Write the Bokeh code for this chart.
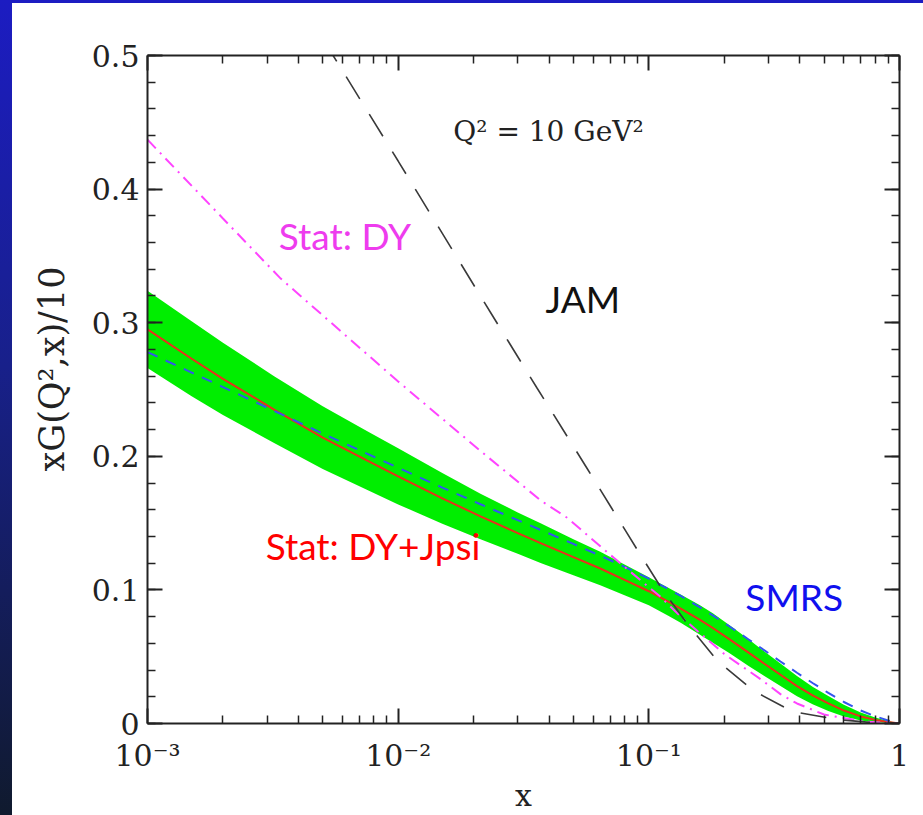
from bokeh.plotting import figure
from bokeh.layouts import row, column
from bokeh.models import (Range1d, LogAxis, LinearAxis, FixedTicker, SingleIntervalTicker,
                          CustomJSTickFormatter, Label, Title, GlobalInlineStyleSheet, Spacer)
from bokeh.embed import file_html
from bokeh.resources import INLINE

# ---------------- data ----------------
x_grid = [0.001, 0.0015, 0.002, 0.0032, 0.005, 0.0075, 0.01, 0.015, 0.0213, 0.03, 0.037,
          0.05, 0.064, 0.08, 0.1, 0.12, 0.134, 0.16, 0.18, 0.21, 0.25, 0.29, 0.335, 0.39,
          0.45, 0.52, 0.6, 0.7, 0.8, 0.9, 1.0]

stat_dy_jpsi = [0.295, 0.273, 0.258, 0.235, 0.214, 0.197, 0.185, 0.1685, 0.155, 0.1425, 0.135,
                0.1245, 0.116, 0.1075, 0.099, 0.091, 0.086, 0.0775, 0.0715, 0.063, 0.053, 0.0445,
                0.0365, 0.028, 0.021, 0.015, 0.0097, 0.0053, 0.0027, 0.0012, 0.0]
band_upper = [0.324, 0.301, 0.285, 0.260, 0.2375, 0.219, 0.206, 0.1875, 0.172, 0.158, 0.1498,
              0.138, 0.1285, 0.119, 0.1095, 0.1015, 0.0965, 0.0885, 0.0825, 0.0735, 0.063, 0.0537,
              0.045, 0.0356, 0.0276, 0.0206, 0.0141, 0.0083, 0.0044, 0.0019, 0.0]
band_lower = [0.266, 0.245, 0.231, 0.210, 0.1905, 0.175, 0.164, 0.1495, 0.138, 0.127, 0.1202,
              0.111, 0.1035, 0.096, 0.0885, 0.0805, 0.0755, 0.0665, 0.0605, 0.0525, 0.043, 0.0353,
              0.028, 0.0204, 0.0144, 0.0094, 0.0053, 0.0023, 0.001, 0.0005, 0.0]
smrs = [0.278, 0.2627, 0.2518, 0.234, 0.2171, 0.202, 0.1914, 0.1766, 0.1641, 0.1522, 0.1449,
        0.1344, 0.1256, 0.1173, 0.1084, 0.1005, 0.0955, 0.0869, 0.0809, 0.0726, 0.0629, 0.0546,
        0.0464, 0.038, 0.0303, 0.0229, 0.0161, 0.0097, 0.0054, 0.0023, 0.0]

x_dy = [0.001, 0.002, 0.0034, 0.01, 0.0213, 0.037, 0.0472, 0.0725, 0.1, 0.111, 0.134,
        0.176, 0.2, 0.28, 0.335, 0.39, 0.5, 0.72, 1.0]
stat_dy = [0.437, 0.378, 0.333, 0.256, 0.204, 0.167, 0.154, 0.124, 0.102, 0.095, 0.080,
           0.061, 0.052, 0.033, 0.022, 0.015, 0.0067, 0.0015, 0.0]

x_jam = [0.005, 0.0055, 0.01, 0.0233, 0.0357, 0.0456, 0.0569, 0.0709, 0.0893, 0.111, 0.1425,
         0.188, 0.261, 0.374, 0.565, 0.8, 1.0]
jam = [0.512, 0.5, 0.421, 0.308, 0.2515, 0.2195, 0.1905, 0.1615, 0.131, 0.1027, 0.0744,
       0.0469, 0.0246, 0.0089, 0.003, 0.0005, 0.0]

x_major_ticks = [0.001, 0.01, 0.1, 1.0]
x_tick_labels = {"-3": "10\u207b\u00b3", "-2": "10\u207b\u00b2", "-1": "10\u207b\u00b9", "0": "1"}

# ---------------- figure ----------------
SERIF = "DejaVu Serif"
SANS = "Lato"

p = figure(width=911, height=812, x_axis_type="log",
           x_range=Range1d(1e-3, 1.0), y_range=Range1d(0.0, 0.5),
           output_backend="svg", toolbar_location=None,
           min_border_left=135, min_border_right=24, min_border_top=52, min_border_bottom=88,
           background_fill_color="white", border_fill_color="white")
p.grid.visible = False
p.outline_line_color = None

minor_x = [m * d for d in (0.001, 0.01, 0.1) for m in range(2, 10)]

def style_axis(ax, labels=True):
    ax.axis_line_color = "#222222"
    ax.axis_line_width = 2
    ax.major_tick_line_color = "#222222"
    ax.major_tick_line_width = 2
    ax.minor_tick_line_color = "#222222"
    ax.minor_tick_line_width = 1.5
    ax.major_tick_in = 15
    ax.major_tick_out = 0
    ax.minor_tick_in = 8
    ax.minor_tick_out = 0
    ax.major_label_text_font = SERIF
    ax.major_label_text_font_size = "30px"
    ax.major_label_text_color = "#222222"
    ax.axis_label_text_font = SERIF
    ax.axis_label_text_font_style = "normal"
    ax.axis_label_text_color = "#222222"
    if not labels:
        ax.formatter = CustomJSTickFormatter(code="return '';")

xfmt = CustomJSTickFormatter(args=dict(labels=x_tick_labels),
                             code="const e = Math.round(Math.log10(tick)); return labels[String(e)];")
yfmt = CustomJSTickFormatter(code="return Math.abs(tick) < 1e-9 ? '0' : tick.toFixed(1);")

bx = p.xaxis[0]
bx.ticker = FixedTicker(ticks=x_major_ticks, minor_ticks=minor_x)
bx.formatter = xfmt
style_axis(bx)
bx.major_label_standoff = 14
bx.axis_label = "x"
bx.axis_label_text_font_size = "30px"
bx.axis_label_standoff = 2

ly = p.yaxis[0]
ly.ticker = SingleIntervalTicker(interval=0.1, num_minor_ticks=5)
ly.formatter = yfmt
style_axis(ly)
ly.major_label_standoff = 8

tx = LogAxis(ticker=FixedTicker(ticks=x_major_ticks, minor_ticks=minor_x))
style_axis(tx, labels=False)
p.add_layout(tx, "above")
ry = LinearAxis(ticker=SingleIntervalTicker(interval=0.1, num_minor_ticks=5))
style_axis(ry, labels=False)
p.add_layout(ry, "right")

# y-axis title as a side title so it can sit a little above the frame centre
ytitle = Title(text="xG(Q\u00b2,x)/10", align="left", offset=252, text_font=SERIF,
               text_font_size="35px", text_font_style="normal", text_color="#222222")
if "standoff" in Title.properties():
    ytitle.standoff = 34
p.add_layout(ytitle, "left")

# ---------------- curves ----------------
p.varea(x=x_grid, y1=band_lower, y2=band_upper, fill_color="#00ee00")
p.line(x_grid, stat_dy_jpsi, line_color="#e8301c", line_width=2)
p.line(x_grid, smrs, line_color="#3355ee", line_width=2, line_dash="11 9")
p.line(x_dy, stat_dy, line_color="#ff44ff", line_width=2, line_dash="12 6 2 6")
p.line(x_jam, jam, line_color="#3a3a3a", line_width=1.6, line_dash="26 18")

# ---------------- annotations ----------------
def add_label(x, y, txt, color, font, size, align="left"):
    p.add_layout(Label(x=x, y=y, text=txt, text_color=color, text_font=font,
                       text_font_size=size, text_align=align, text_baseline="alphabetic"))

add_label(0.0398, 0.443, "Q\u00b2 = 10 GeV\u00b2", "#222222", SERIF, "28px", "center")
add_label(0.00334, 0.365, "Stat: DY", "#ee3cee", SANS, "37px")
add_label(0.0387, 0.318, "JAM", "#111111", SANS, "37px")
add_label(0.00296, 0.133, "Stat: DY+Jpsi", "#ff0000", SANS, "37px")
add_label(0.2427, 0.095, "SMRS", "#1010ee", SANS, "37px")

layout = column(Spacer(width=923, height=3), row(Spacer(width=12, height=812), p))
layout.stylesheets = [GlobalInlineStyleSheet(
    css="html{background:"
        "linear-gradient(to bottom,#1c1cc2 0%,#18208a 45%,#101a2e 100%) 0 0/12px 100% no-repeat,"
        "linear-gradient(#1c1cc2,#1c1cc2) 0 0/100% 3px no-repeat,"
        "#ffffff;min-height:100%;}")]

open("out.html", "w").write(file_html(layout, INLINE))
